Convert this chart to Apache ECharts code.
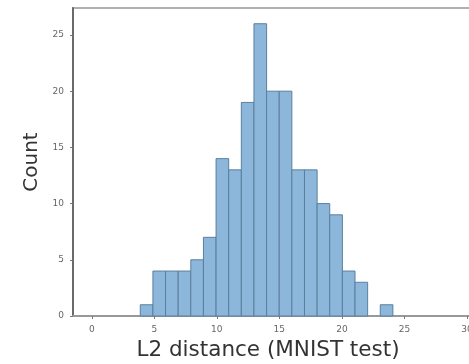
<!DOCTYPE html>
<html>
<head>
<meta charset="utf-8">
<script src="https://cdn.jsdelivr.net/npm/echarts@6/dist/echarts.min.js"></script>
<style>html,body{margin:0;padding:0;background:#fff;}#c{width:469px;height:364px;}</style>
</head>
<body>
<div id="c"></div>
<script>
// Histogram bin edges and counts
var binEdges = [3.88, 4.89, 5.90, 6.91, 7.92, 8.93, 9.94, 10.95, 11.96, 12.97, 13.98, 14.99, 16.00, 17.01, 18.02, 19.03, 20.04, 21.05, 22.06, 23.07, 24.08];
var counts = [1, 4, 4, 4, 5, 7, 14, 13, 19, 26, 20, 20, 13, 13, 10, 9, 4, 3, 0, 1];
var xTicks = [0, 5, 10, 15, 20, 25, 30];
var yTicks = [0, 5, 10, 15, 20, 25];
var xLabel = 'L2 distance (MNIST test)';
var yLabel = 'Count';

var data = [];
for (var i = 0; i < counts.length; i++) {
  if (counts[i] > 0) data.push([binEdges[i], binEdges[i + 1], counts[i]]);
}

var chart = echarts.init(document.getElementById('c'), null, {renderer: 'canvas'});
chart.setOption({
  animation: false,
  backgroundColor: '#fff',
  grid: {left: 73, top: 8, width: 412.7, height: 308, containLabel: false, outerBoundsMode: 'none',
         show: true, borderColor: '#b0b0b0', borderWidth: 2, backgroundColor: 'transparent'},
  xAxis: {
    type: 'value', min: -1.5, max: 31.5,
    splitLine: {show: false},
    axisLine: {show: true, onZero: false, lineStyle: {color: '#999', width: 2}},
    axisTick: {show: true, customValues: xTicks, length: 3, lineStyle: {color: '#777'}},
    axisLabel: {customValues: xTicks, fontSize: 9, color: '#666', fontFamily: 'DejaVu Sans', margin: 9}
  },
  yAxis: {
    type: 'value', min: 0, max: 27.4,
    name: yLabel, nameLocation: 'middle', nameGap: 25,
    nameTextStyle: {fontSize: 20, color: '#333', fontFamily: 'DejaVu Sans'},
    splitLine: {show: false},
    axisLine: {show: true, onZero: false, lineStyle: {color: '#6a6a6a', width: 2}},
    axisTick: {show: true, customValues: yTicks, length: 3, lineStyle: {color: '#777'}},
    axisLabel: {customValues: yTicks, fontSize: 9, color: '#666', fontFamily: 'DejaVu Sans', margin: 9}
  },
  graphic: [{
    type: 'text', x: 268, y: 339,
    style: {text: xLabel, fontSize: 21.5, fill: '#333', fontFamily: 'DejaVu Sans', align: 'center', verticalAlign: 'top'}
  }],
  series: [{
    type: 'custom',
    data: data,
    encode: {x: [0, 1], y: 2},
    renderItem: function (params, api) {
      var p0 = api.coord([api.value(0), 0]);
      var p1 = api.coord([api.value(1), api.value(2)]);
      return {
        type: 'rect',
        shape: {x: p0[0], y: p1[1], width: p1[0] - p0[0], height: p0[1] - p1[1]},
        style: {fill: '#8cb7da', stroke: '#5a7f9e', lineWidth: 1}
      };
    }
  }]
});
</script>
</body>
</html>
